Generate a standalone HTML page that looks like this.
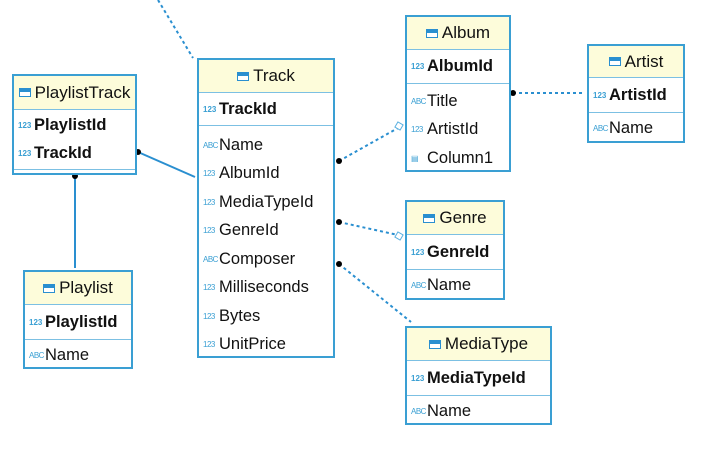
<!DOCTYPE html>
<html><head><meta charset="utf-8"><style>
body{margin:0;width:702px;height:460px;background:#fff;position:relative;overflow:hidden;font-family:"Liberation Sans",sans-serif;color:#111}
.t{position:absolute;border:2px solid #3a9fd3;background:#fff;box-sizing:border-box}
.h{background:#fdfcda;border-bottom:1px solid #7cc0e3;text-align:center;font-size:17px;box-sizing:border-box;display:flex;align-items:center;justify-content:center}
.h i{display:inline-block;width:12px;height:9px;border:1px solid #2a8fd0;background:linear-gradient(#2a8fd0 0 3px,#fff 3px 100%);margin-right:4px;box-sizing:border-box;position:relative}
.r{height:28.5px;font-size:16.5px;display:flex;align-items:center;padding-left:4px;white-space:nowrap}
.pk{font-weight:bold;border-bottom:1px solid #7cc0e3}
.ic{font-size:8px;color:#3a9fd3;width:16px;display:inline-block;font-weight:normal;letter-spacing:-0.5px}
.icb{font-size:8px;color:#3a9fd3;width:16px;display:inline-block;font-weight:bold}
</style></head><body>
<svg width="702" height="460" style="position:absolute;left:0;top:0">
<g stroke="#2a8fd0" stroke-width="2" fill="none">
<line x1="158" y1="0" x2="193" y2="58" stroke-dasharray="3,3"/>
<line x1="339" y1="161" x2="398" y2="128" stroke-dasharray="3,3"/>
<line x1="513" y1="93" x2="585" y2="93" stroke-dasharray="3,3"/>
<line x1="339" y1="222" x2="398" y2="235" stroke-dasharray="3,3"/>
<line x1="339" y1="264" x2="411" y2="322" stroke-dasharray="3,3"/>
<line x1="138" y1="152" x2="195" y2="177"/>
<line x1="75" y1="176" x2="75" y2="268"/>
</g>
<g fill="#fff" stroke="#5ab0e0" stroke-width="1">
<rect x="396" y="123" width="6" height="6" transform="rotate(30 399 126)"/>
<rect x="396" y="233" width="6" height="6" transform="rotate(30 399 236)"/>
</g>
<g fill="#000"><circle cx="339" cy="161" r="3"/><circle cx="513" cy="93" r="3"/><circle cx="339" cy="222" r="3"/><circle cx="339" cy="264" r="3"/><circle cx="138" cy="152" r="3"/><circle cx="75" cy="176" r="3"/></g>
</svg>

<div class="t" style="left:197px;top:58px;width:138px;height:300px">
<div class="h" style="height:33px"><i></i>Track</div>
<div class="r pk" style="height:32px"><span class="icb">123</span>TrackId</div>
<div style="height:5px"></div>
<div class="r"><span class="ic">ABC</span>Name</div>
<div class="r"><span class="ic">123</span>AlbumId</div>
<div class="r"><span class="ic">123</span>MediaTypeId</div>
<div class="r"><span class="ic">123</span>GenreId</div>
<div class="r"><span class="ic">ABC</span>Composer</div>
<div class="r"><span class="ic">123</span>Milliseconds</div>
<div class="r"><span class="ic">123</span>Bytes</div>
<div class="r"><span class="ic">123</span>UnitPrice</div>
</div>

<div class="t" style="left:405px;top:15px;width:106px;height:157px">
<div class="h" style="height:33px"><i></i>Album</div>
<div class="r pk" style="height:33px"><span class="icb">123</span>AlbumId</div>
<div style="height:3px"></div>
<div class="r"><span class="ic">ABC</span>Title</div>
<div class="r"><span class="ic">123</span>ArtistId</div>
<div class="r"><span class="ic">▤</span>Column1</div>
</div>

<div class="t" style="left:587px;top:44px;width:98px;height:99px">
<div class="h" style="height:32px"><i></i>Artist</div>
<div class="r pk" style="height:34px"><span class="icb">123</span>ArtistId</div>
<div class="r" style="height:30px"><span class="ic">ABC</span>Name</div>
</div>

<div class="t" style="left:12px;top:74px;width:125px;height:101px">
<div class="h" style="height:34px"><i></i>PlaylistTrack</div>
<div class="r" style="font-weight:bold;height:30px"><span class="icb">123</span>PlaylistId</div>
<div class="r" style="font-weight:bold;height:27px"><span class="icb">123</span>TrackId</div>
<div style="border-top:1px solid #7cc0e3;margin-top:2px"></div>
</div>

<div class="t" style="left:23px;top:270px;width:110px;height:99px">
<div class="h" style="height:33px"><i></i>Playlist</div>
<div class="r pk" style="height:34px"><span class="icb">123</span>PlaylistId</div>
<div class="r" style="height:30px"><span class="ic">ABC</span>Name</div>
</div>

<div class="t" style="left:405px;top:200px;width:100px;height:100px">
<div class="h" style="height:33px"><i></i>Genre</div>
<div class="r pk" style="height:34px"><span class="icb">123</span>GenreId</div>
<div class="r" style="height:30px"><span class="ic">ABC</span>Name</div>
</div>

<div class="t" style="left:405px;top:326px;width:147px;height:99px">
<div class="h" style="height:33px"><i></i>MediaType</div>
<div class="r pk" style="height:34px"><span class="icb">123</span>MediaTypeId</div>
<div class="r" style="height:30px"><span class="ic">ABC</span>Name</div>
</div>
</body></html>
